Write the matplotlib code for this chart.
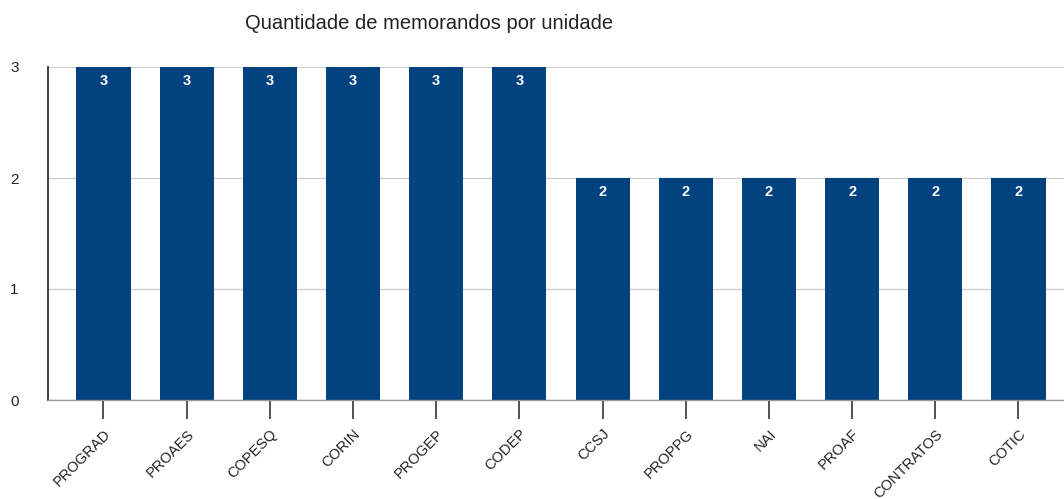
import matplotlib
matplotlib.use("Agg")
import matplotlib.pyplot as plt

plt.rcParams['font.family'] = ['Liberation Sans', 'DejaVu Sans']

units = ["PROGRAD", "PROAES", "COPESQ", "CORIN", "PROGEP", "CODEP",
         "CCSJ", "PROPPG", "NAI", "PROAF", "CONTRATOS", "COTIC"]
counts = [3, 3, 3, 3, 3, 3, 2, 2, 2, 2, 2, 2]
y_ticks = [0, 1, 2, 3]
title = "Quantidade de memorandos por unidade"

bar_color = "#01427f"

W, H = 1064, 499
fig = plt.figure(figsize=(W / 100, H / 100), dpi=100)
ax = fig.add_axes([48 / W, 1 - 400 / H, 1 - 48 / W, (400 - 67) / H])

x = list(range(len(units)))
bars = ax.bar(x, counts, width=0.65, color=bar_color, zorder=3)

for rect, v in zip(bars, counts):
    ax.annotate(str(v), (rect.get_x() + rect.get_width() / 2, v),
                xytext=(0, -5), textcoords="offset points",
                ha="center", va="top", color="white", fontsize=10.5,
                fontweight="bold", zorder=4)

ax.set_xlim(-0.667, 11.547)
ax.set_ylim(0, 3)
ax.set_yticks(y_ticks)
ax.set_yticklabels([str(t) for t in y_ticks])
ax.set_xticks(x)
ax.set_xticklabels(units, rotation=45, ha="right", va="top",
                   rotation_mode="anchor", fontsize=10.5, color="#222222")

ax.tick_params(axis="x", length=13.7, width=1.3, color="#444444", pad=5.5)
ax.tick_params(axis="y", length=0, pad=21, labelsize=11, labelcolor="#222222")

ax.grid(axis="y", color="#d0d0d0", linewidth=1, zorder=0)
ax.set_axisbelow(True)

for side in ("top", "right"):
    ax.spines[side].set_visible(False)
ax.spines["left"].set_color("#333333")
ax.spines["left"].set_linewidth(1.3)
ax.spines["bottom"].set_color("#999999")
ax.spines["bottom"].set_linewidth(1.0)
ax.spines["bottom"].set_zorder(5)

fig.text(429 / W, 1 - 29 / H, title, ha="center", va="baseline",
         fontsize=14.5, color="#222222")

fig.savefig("out.png", dpi=100)
